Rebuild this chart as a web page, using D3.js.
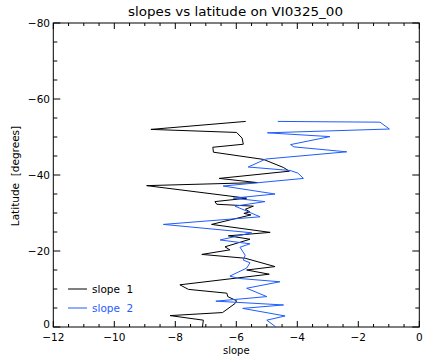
<!DOCTYPE html>
<html><head><meta charset="utf-8">
<script src="https://cdn.jsdelivr.net/npm/d3@7"></script>
<style>body{margin:0;background:#fff;} svg{display:block;font-family:"DejaVu Sans",sans-serif;}</style>
</head><body><div id="chart"></div>
<script>
const titleText = "slopes vs latitude on VI0325_00";
const xLabel = "slope";
const yLabel = "Latitude  [degrees]";
const xTicks = [-12, -10, -8, -6, -4, -2, 0];
const yTicks = [-80, -60, -40, -20, 0];
const seriesNames = ["slope 1", "slope 2"];
const seriesColors = ["#000000", "#1f5cff"];

const slope1 = [-5.69,-8.80,-5.99,-5.81,-5.77,-6.77,-6.75,-5.11,-4.46,-4.26,-6.56,-5.31,-8.94,-5.66,-6.70,-6.64,-5.44,-5.70,-5.56,-5.75,-5.52,-6.81,-4.89,-6.26,-5.55,-6.37,-6.21,-7.13,-5.71,-4.73,-5.66,-4.92,-7.85,-7.57,-6.31,-6.28,-5.99,-6.04,-6.45,-8.17,-7.08,-7.11];
const lat1 = [-54.1,-52.0,-51.2,-49.7,-48.1,-47.3,-46.0,-44.1,-42.0,-41.0,-39.1,-38.0,-37.2,-33.9,-33.0,-32.3,-31.8,-31.0,-30.3,-29.9,-29.5,-27.0,-24.9,-24.0,-23.1,-21.1,-20.3,-19.1,-18.1,-15.9,-15.0,-13.9,-11.1,-9.9,-8.9,-8.0,-6.9,-6.2,-3.8,-3.0,-1.8,0.0];
const slope2 = [-4.64,-1.29,-0.98,-4.98,-2.93,-4.22,-4.11,-2.38,-5.03,-5.61,-4.24,-3.98,-3.80,-6.43,-4.73,-6.10,-5.06,-6.04,-5.22,-8.39,-5.50,-6.53,-5.55,-5.88,-5.71,-5.77,-5.55,-5.66,-6.21,-5.94,-4.57,-5.66,-5.00,-6.67,-4.45,-5.79,-4.40,-5.00,-4.70];
const lat2 = [-54.1,-53.9,-52.1,-51.1,-50.1,-48.0,-47.4,-46.1,-44.2,-42.1,-41.2,-40.5,-39.1,-37.1,-35.0,-33.9,-33.0,-31.8,-29.0,-27.0,-24.8,-22.9,-21.9,-21.0,-18.9,-17.6,-16.9,-15.5,-13.4,-12.8,-11.9,-10.2,-8.0,-6.8,-5.8,-4.9,-2.9,-1.8,0.0];

const W = 423, H = 358;
const L = 53.3, R = 419.3, T = 23, B = 327;
const svg = d3.select("#chart").append("svg").attr("width", W).attr("height", H);
const x = d3.scaleLinear().domain([-12, 0]).range([L, R]);
const y = d3.scaleLinear().domain([-80, 0]).range([T, B]);
const fmt = v => (v < 0 ? "\u2212" + Math.abs(v) : String(v));

// frame
svg.append("rect").attr("x", L).attr("y", T).attr("width", R - L).attr("height", B - T)
  .attr("fill", "none").attr("stroke", "#000").attr("stroke-width", 1);

const minorX = d3.range(-12, 0.001, 0.5);
const minorY = d3.range(-80, 0.001, 5);
const tk = svg.append("g").attr("stroke", "#000").attr("stroke-width", 1);
minorX.forEach(v => {
  const major = Math.abs(v % 2) < 1e-9;
  const len = major ? 6 : 3;
  tk.append("line").attr("x1", x(v)).attr("x2", x(v)).attr("y1", B).attr("y2", B - len);
  tk.append("line").attr("x1", x(v)).attr("x2", x(v)).attr("y1", T).attr("y2", T + len);
});
minorY.forEach(v => {
  const major = Math.abs(v % 20) < 1e-9;
  const len = major ? 7 : 4;
  tk.append("line").attr("y1", y(v)).attr("y2", y(v)).attr("x1", L).attr("x2", L + len);
  tk.append("line").attr("y1", y(v)).attr("y2", y(v)).attr("x1", R).attr("x2", R - len);
});

svg.append("g").selectAll("text").data(xTicks).join("text")
  .attr("x", d => x(d)).attr("y", 340.5).attr("text-anchor", "middle")
  .attr("font-size", 10.5).text(fmt);
svg.append("g").selectAll("text").data(yTicks).join("text")
  .attr("x", 50).attr("y", d => Math.min(y(d) + 4, 327.5)).attr("text-anchor", "end")
  .attr("font-size", 10.5).text(fmt);

svg.append("text").attr("x", 235.5).attr("y", 16).attr("text-anchor", "middle")
  .attr("font-size", 12.5).attr("textLength", 215).attr("lengthAdjust", "spacingAndGlyphs").text(titleText);
svg.append("text").attr("x", (L + R) / 2).attr("y", 353.5).attr("text-anchor", "middle")
  .attr("font-size", 10).text(xLabel);
svg.append("text").attr("transform", "translate(19,176) rotate(-90)").attr("text-anchor", "middle")
  .attr("font-size", 10.5).style("white-space", "pre").text(yLabel);

const line = d3.line().x(d => x(d[0])).y(d => y(d[1]));
const data = [d3.zip(slope1, lat1), d3.zip(slope2, lat2)];
svg.append("g").selectAll("path").data(data).join("path")
  .attr("d", line).attr("fill", "none")
  .attr("stroke", (d, i) => seriesColors[i]).attr("stroke-width", 1).attr("stroke-linejoin", "round");

// legend
const lg = svg.append("g");
seriesNames.forEach((n, i) => {
  const yy = 289 + i * 19;
  lg.append("line").attr("x1", 68).attr("x2", 87).attr("y1", yy).attr("y2", yy)
    .attr("stroke", seriesColors[i]).attr("stroke-width", 1);
  lg.append("text").attr("x", 92).attr("y", yy + 3.5).attr("font-size", 10.5)
    .attr("fill", seriesColors[i]).style("white-space", "pre").text(n.replace(" ", "  "));
});
</script></body></html>
